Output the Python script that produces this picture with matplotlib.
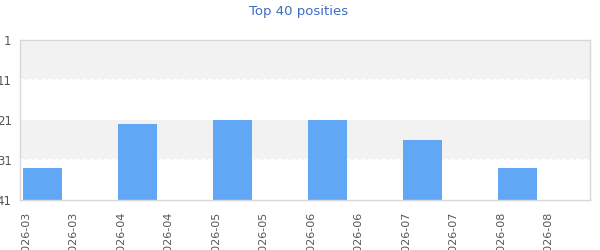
import matplotlib
matplotlib.use("Agg")
import matplotlib.pyplot as plt
import numpy as np

# data
labels = ["2026-03", "2026-03", "2026-04", "2026-04", "2026-05", "2026-05",
          "2026-06", "2026-06", "2026-07", "2026-07", "2026-08", "2026-08"]
positions = [33, None, 22, None, 21, None, 21, None, 26, None, 33, None]
y_ticks = [1, 11, 21, 31, 41]

fig = plt.figure(figsize=(6, 2.5), dpi=100)
ax = fig.add_axes([20 / 600, 50 / 250, 570 / 600, 160 / 250])

# alternating bands, dashed white grid only shows on the grey ones
ax.axhspan(1, 11, color="#f2f2f2", zorder=0, lw=0)
ax.axhspan(21, 31, color="#f2f2f2", zorder=0, lw=0)
for t in (11, 31):
    ax.axhline(t - 0.15, color="white", lw=1, ls=(0, (3, 2)), zorder=1)

x = np.arange(len(labels))
for xi, p in zip(x, positions):
    if p is None:
        continue
    ax.bar(xi - 0.03, 41 - p, bottom=p, width=0.82, color="#60a8f5", zorder=2)

ax.set_xlim(-0.5, len(labels) - 0.5)
ax.set_ylim(41, 1)
ax.set_yticks(y_ticks)
ax.set_yticklabels([str(t) for t in y_ticks])
ax.set_xticks(x - 0.38)
ax.set_xticklabels(labels, rotation=90, va="top", ha="center")

ax.tick_params(axis="y", length=0, pad=6, labelsize=8.5, labelcolor="#555555")
ax.tick_params(axis="x", length=0, pad=8.5, labelsize=8, labelcolor="#555555")
for s in ax.spines.values():
    s.set_color("#d8d8d8")
    s.set_linewidth(1)

fig.text(0.4975, 1 - 11 / 250, "Top 40 posities", color="#3d6bc2",
         fontsize=9.5, ha="center", va="center")

fig.savefig("out.png", dpi=100)
